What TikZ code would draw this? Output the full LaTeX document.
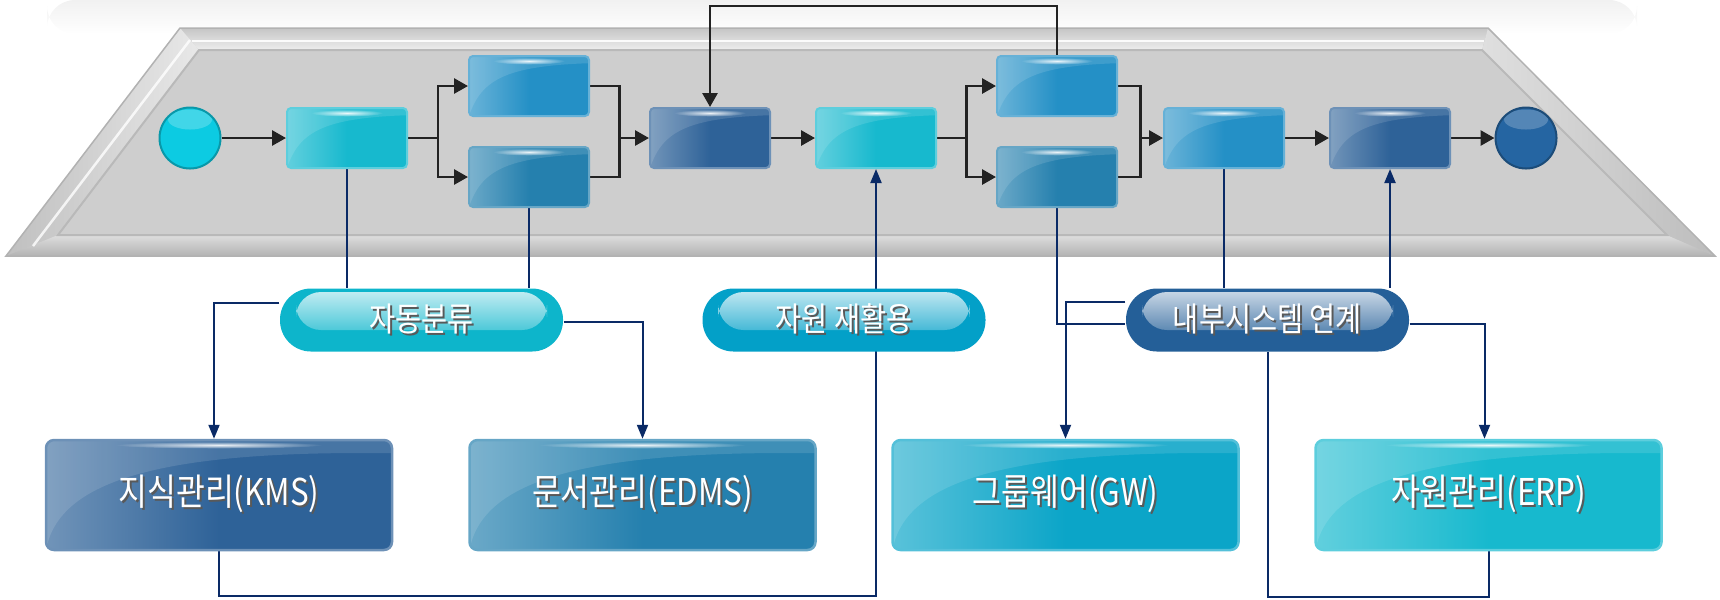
\documentclass[tikz,border=0pt]{standalone}
\usepackage{fontspec}
\setmainfont{Noto Sans CJK KR}[FakeStretch=0.85]
\usepackage{tikz}
\usetikzlibrary{arrows.meta,calc,fadings}

\definecolor{cyanbox}{HTML}{17B9CE}
\definecolor{bluebox}{HTML}{2490C6}
\definecolor{tealbox}{HTML}{2580AE}
\definecolor{navybox}{HTML}{2E6298}
\definecolor{gwbox}{HTML}{0BA5C8}
\definecolor{startc}{HTML}{0CCBE2}
\definecolor{endc}{HTML}{2565A2}
\definecolor{pillcyan}{HTML}{0DB5CB}
\definecolor{pillteal}{HTML}{03A0C8}
\definecolor{pillnavy}{HTML}{245F98}
\definecolor{wirec}{HTML}{0A2A66}
\definecolor{flowc}{HTML}{222222}
\definecolor{panel}{HTML}{CECECE}

\tikzfading[name=glowfade, inner color=transparent!0, outer color=transparent!100]

\pgfdeclarelayer{back}
\pgfdeclarelayer{wires}
\pgfsetlayers{back,wires,main}

% white text with a dark drop shadow
\newcommand{\shtxt}[1]{\makebox[0pt][l]{\kern0.55pt\raisebox{-0.55pt}{\textcolor{black!65}{#1}}}#1}

\tikzset{
  gloss/.style={path picture={
    \coordinate (gsw) at (path picture bounding box.south west);
    \coordinate (gne) at (path picture bounding box.north east);
    \fill[white, opacity=0.12, sharp corners] (gsw) .. controls ($(gsw)!0.6!(gsw |- gne)+(1.2mm,0)$) and ($(gsw |- gne)!0.3!(gne)+(0,-1mm)$) .. ($(gne)!0.12!(gne |- gsw)$) -- (gne) -- (gsw |- gne) -- cycle;
    \fill[white, path fading=glowfade, opacity=0.9] let \p1=(gsw), \p2=(gne) in
      ($(gsw |- gne)!0.5!(gne)+(0,-0.5mm)$) ellipse ({0.3*(\x2-\x1)} and 0.35mm);
  }},
  flowbox/.style={rectangle, rounded corners=0.4mm, minimum width=12mm, minimum height=6mm,
    draw=#1!70!white, line width=0.2mm, left color=#1!68!white, right color=#1, middle color=#1, gloss},
  sysbox/.style={flowbox=#1, minimum width=34.6mm, minimum height=11mm, rounded corners=0.8mm,
    line width=0.25mm, text=white, font=\fontsize{10.5}{11}\selectfont},
  dot/.style={circle, minimum size=6.1mm, inner sep=0pt, fill=#1, draw=#1!75!black, line width=0.2mm,
    path picture={\fill[white, opacity=0.22] ($(path picture bounding box.north)+(0,-1.2mm)$) ellipse (2.2mm and 1mm);}},
  pill/.style={rectangle, rounded corners=3.1mm, minimum width=28.3mm, minimum height=6.3mm,
    fill=#1, text=white, font=\fontsize{9.5}{10}\selectfont,
    path picture={\shade[top color=white!78!#1, bottom color=#1, rounded corners=2.5mm]
      ($(path picture bounding box.north west)+(1.6mm,-0.35mm)$) rectangle ($(path picture bounding box.east)+(-1.6mm,-1mm)$);}},
  flowline/.style={draw=flowc, line width=0.28mm},
  flow/.style={flowline, -{Triangle[length=1.4mm, width=1.5mm]}},
  wire/.style={draw=wirec, line width=0.2mm},
  wirearrow/.style={wire, -{Triangle[length=1.4mm, width=1.1mm]}},
}

\begin{document}
\begin{tikzpicture}[x=0.1mm, y=-0.1mm]
  \useasboundingbox (0,0) rectangle (1720,599);

  % Process steps
  \foreach \n/\x/\y/\c in {p1/347/138/cyanbox, p2/529/86/bluebox, p3/529/177/tealbox,
      p4/710/138/navybox, p5/876/138/cyanbox, p6/1057/86/bluebox, p7/1057/177/tealbox,
      p8/1224/138/bluebox, p9/1390/138/navybox}
    \node[flowbox=\c] (\n) at (\x,\y) {};
  \node[dot=startc] (start) at (190,138) {};
  \node[dot=endc] (stop) at (1526,138) {};

  % Functions
  \node[pill=pillcyan] (cls) at (421.5,320) {\shtxt{자동분류}};
  \node[pill=pillteal] (reuse) at (844,320) {\shtxt{자원 재활용}};
  \node[pill=pillnavy] (sys) at (1267.5,320) {\shtxt{내부시스템 연계}};

  % Systems
  \node[sysbox=navybox] (kms) at (219,495) {\shtxt{지식관리(KMS)}};
  \node[sysbox=tealbox] (edms) at (642.5,495) {\shtxt{문서관리(EDMS)}};
  \node[sysbox=gwbox] (gw) at (1065.5,495) {\shtxt{그룹웨어(GW)}};
  \node[sysbox=cyanbox] (erp) at (1488.5,495) {\shtxt{자원관리(ERP)}};

  % Panel
  \begin{pgfonlayer}{back}
    \shade[top color=gray!11, bottom color=white, rounded corners=2.8mm] (47,0) rectangle (1637,34);
    \fill[gray!45] (180,28) -- (1488,28) -- (1715,256) -- (6,256) -- cycle;
    \shade[top color=gray!45, bottom color=gray!14] (180,28) -- (1488,28) -- (1482,50) -- (199,50) -- cycle;
    \shade[left color=gray!50, right color=gray!18] (180,28) -- (199,50) -- (58,235) -- (6,256) -- cycle;
    \shade[top color=gray!26, bottom color=gray!60] (6,256) -- (58,235) -- (1667,235) -- (1715,256) -- cycle;
    \shade[left color=gray!25, right color=gray!52] (1488,28) -- (1715,256) -- (1667,235) -- (1482,50) -- cycle;
    \draw[white, line width=0.25mm, opacity=0.9] (192,41) -- (1484,41);
    \draw[white, line width=0.25mm, opacity=0.8] (190,40) -- (33,246);
    \fill[panel] (199,50) -- (1482,50) -- (1667,235) -- (58,235) -- cycle;
    \draw[gray!55, line width=0.2mm] (199,50) -- (1482,50) -- (1667,235) -- (58,235) -- cycle;
    \draw[gray!60, line width=0.15mm] (180,28) -- (1488,28) -- (1715,256) -- (6,256) -- cycle;
  \end{pgfonlayer}

  \begin{pgfonlayer}{wires}
    % Process flow
    \coordinate (j1) at ($(p1.east)!0.5!(p2.west |- p1)$);
    \coordinate (j2) at ($(p2.east |- p4)!0.5!(p4.west)$);
    \coordinate (j3) at ($(p5.east)!0.5!(p6.west |- p5)$);
    \coordinate (j4) at ($(p6.east |- p8)!0.5!(p8.west)$);
    \draw[flow] (start) -- (p1);
    \draw[flowline] (p1) -- (j1);
    \draw[flow] (j1) |- (p2);
    \draw[flow] (j1) |- (p3);
    \draw[flowline] (p2) -| (j2) |- (p3);
    \draw[flow] (j2) -- (p4);
    \draw[flow] (p4) -- (p5);
    \draw[flowline] (p5) -- (j3);
    \draw[flow] (j3) |- (p6);
    \draw[flow] (j3) |- (p7);
    \draw[flowline] (p6) -| (j4) |- (p7);
    \draw[flow] (j4) -- (p8);
    \draw[flow] (p8) -- (p9);
    \draw[flow] (p9) -- (stop);
    \draw[flow] (p6.north) -- ++(0,-49) -| (p4.north);

    % Links to systems
    \draw[wire] (p1) -- (p1 |- cls.north);
    \draw[wire] (p3) -- (p3 |- cls.north);
    \draw[wirearrow] ([yshift=1.7mm]cls.west) -| ([xshift=-0.5mm]kms.north);
    \draw[wirearrow] ([yshift=-0.2mm]cls.east) -| (edms.north);
    \draw[wirearrow] (kms.south) -- ++(0,45) -| (p5.south);
    \draw[wire] (p7) |- ([yshift=-0.4mm]sys.west);
    \draw[wirearrow] ([yshift=1.8mm]sys.west) -| (gw.north);
    \draw[wire] (p8) -- (p8 |- sys.north);
    \draw[wirearrow] (p9 |- sys.north) -- (p9);
    \draw[wirearrow] ([yshift=-0.4mm]sys.east) -| ([xshift=-0.4mm]erp.north);
    \draw[wire] (sys.south) -- ++(0,245) -| (erp.south);
  \end{pgfonlayer}
\end{tikzpicture}
\end{document}
